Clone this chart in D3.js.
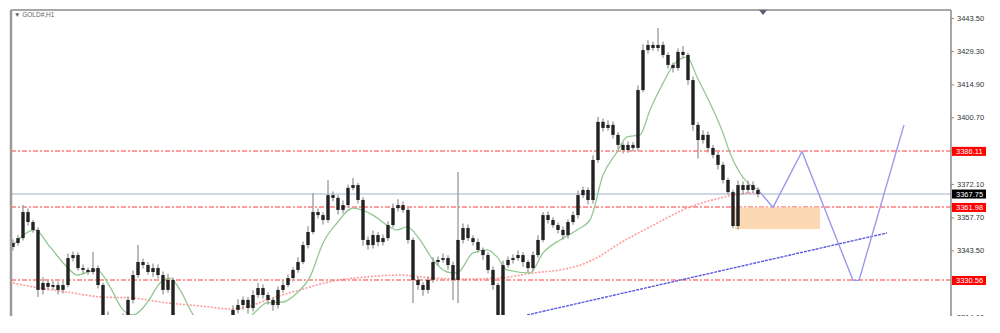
<!DOCTYPE html>
<html><head><meta charset="utf-8">
<script src="https://cdn.jsdelivr.net/npm/d3@7"></script>
<style>body{margin:0;background:#fff}svg{display:block}</style>
</head><body><svg id="c" width="1000" height="333"></svg>
<script>
// ---- data (prices) ----
const firstOpen = 3345.0;
const closes = [
3346.7,3348.8,3360.0,3355.7,3352.3,3326.5,3329.5,3327.8,3328.6,3326.5,
3328.6,3340.2,3341.5,3335.9,3335.1,3334.2,3335.9,3328.6,3315.7,3311.4,
3309.3,3311.4,3314.4,3322.2,3332.9,3338.5,3337.2,3334.2,3335.9,3332.9,
3326.5,3330.8,3313.6,3310.5,3308.2,3305.9,3303.8,3301.5,3300.2,3302.6,
3304.1,3306.8,3309.0,3311.2,3317.9,3320.0,3322.2,3318.7,3324.3,3327.3,
3324.3,3322.2,3320.0,3326.5,3328.6,3331.6,3335.1,3338.5,3345.8,3351.4,
3360.0,3358.7,3356.6,3367.3,3366.1,3360.9,3363.0,3370.4,3371.6,3365.2,
3348.0,3345.8,3350.1,3347.1,3348.8,3354.4,3361.7,3363.0,3360.9,3348.0,
3330.8,3328.6,3326.5,3330.8,3338.5,3339.4,3340.2,3337.2,3330.8,3348.0,
3353.1,3348.8,3347.1,3343.7,3341.5,3335.1,3328.6,3315.7,3337.2,3339.4,
3340.2,3341.5,3338.5,3335.9,3341.5,3348.0,3358.7,3356.6,3354.4,3352.3,
3350.1,3355.7,3358.7,3367.3,3369.5,3365.2,3382.4,3398.8,3396.2,3397.5,
3393.2,3388.9,3386.7,3388.9,3387.6,3412.5,3429.7,3431.9,3430.6,3431.9,
3427.6,3423.3,3422.0,3428.9,3427.6,3416.8,3397.5,3391.0,3393.2,3387.6,
3384.6,3380.3,3373.8,3368.6,3354.0,3371.6,3369.5,3371.6,3369.5,3367.75];
const upWick = [
1.5,1.2,3.0,1.5,1.0,1.2,2.5,1.5,2.0,1.5,
1.8,2.0,1.5,1.2,1.5,1.0,6.9,1.2,1.0,1.5,
1.2,1.5,2.0,1.5,2.0,7.3,1.5,1.2,2.0,1.5,
1.5,2.5,1.0,1.5,1.5,1.5,1.5,1.5,1.5,1.5,
1.5,1.5,1.5,1.5,2.0,2.5,1.5,1.2,2.0,2.2,
1.5,1.2,1.0,1.5,2.0,1.5,1.2,2.0,1.5,2.5,
8.2,1.5,1.2,6.5,1.5,1.2,2.0,1.5,3.1,1.0,
1.2,1.5,2.0,1.2,1.5,1.5,2.0,2.5,1.5,1.0,
1.0,1.5,1.2,1.5,2.0,1.5,2.0,1.2,1.5,29.2,
2.0,1.5,1.2,1.5,1.0,1.2,1.5,1.0,2.0,1.5,
1.5,2.0,1.2,1.0,1.5,2.0,1.3,1.5,1.2,1.0,
1.5,1.2,1.5,2.0,1.5,1.2,2.0,2.2,1.5,2.0,
1.5,1.2,1.0,1.5,1.2,2.0,2.5,2.0,1.5,7.3,
1.5,1.2,1.0,1.5,2.5,1.0,1.5,1.2,2.0,1.5,
1.2,1.5,1.2,1.0,1.0,2.0,1.5,2.0,1.5,1.2];
const dnWick = [
1.5,1.2,1.0,1.5,1.2,3.0,2.0,1.5,1.2,2.0,
1.5,1.0,1.5,1.2,1.5,1.2,1.0,1.5,2.0,1.5,
2.0,1.5,1.2,1.0,1.5,1.2,1.5,1.2,2.0,1.5,
2.0,1.2,2.0,1.5,1.5,1.5,1.5,1.5,1.5,1.5,
1.5,1.5,1.5,1.5,2.0,1.5,2.0,2.5,1.5,1.2,
1.5,2.0,2.5,1.5,1.2,1.0,1.5,1.2,1.0,1.5,
1.0,1.5,2.0,1.2,1.5,2.0,1.5,1.2,1.0,1.5,
2.5,2.0,1.5,1.8,1.5,1.2,1.0,1.5,1.2,1.5,
9.9,2.0,2.5,1.5,1.2,1.5,1.2,2.0,8.6,9.9,
1.5,1.2,1.5,1.2,2.0,1.5,2.0,2.5,1.5,1.2,
1.5,1.2,2.0,1.8,1.5,1.2,1.0,1.5,1.2,1.5,
2.0,1.5,1.2,1.5,1.2,2.0,1.5,1.2,1.5,1.2,
1.5,2.0,1.5,1.2,1.5,1.2,1.0,1.5,1.2,1.5,
1.2,1.5,2.0,1.2,1.5,2.0,2.5,8.0,1.5,2.0,
1.5,2.0,1.5,1.2,1.0,1.5,2.0,1.5,1.2,1.5];

// fast moving average (green), sampled at bar positions
const greenIdx = [0,4.4,7.4,10.8,12.8,16.8,19.4,22,24,26.8,29.4,31.4,33.4,35.8,39.4,44.4,48,50.8,54,56.8,59.4,62,64.8,68,72,74.8,76.8,78.8,81.4,84,86.8,88.8,92,94.8,96.8,98.8,103.4,106,109.4,112.8,115.4,118,120.8,122.8,125.4,127.4,130,132.4,134.8,136.8,139.4,142,143.4,145.4,148,149.4];
const greenVal = [3345.8,3352.3,3345.0,3336.4,3332.9,3335.1,3327.8,3317.9,3315.7,3320.9,3329.5,3331.6,3326.5,3316.6,3307.1,3309.3,3316.1,3320.9,3321.3,3325.2,3332.1,3346.7,3355.3,3361.7,3358.7,3354.4,3352.3,3353.6,3348.0,3339.4,3334.2,3333.8,3342.4,3343.7,3340.7,3335.1,3333.8,3342.4,3348.0,3352.3,3356.6,3375.9,3385.8,3392.3,3393.2,3403.9,3415.5,3424.1,3426.7,3418.1,3406.9,3394.0,3385.4,3376.8,3370.8,3369.5];
// slow moving average (red dotted)
const redIdx = [0,4,10.8,17.4,24,30.8,37.4,43.4,47.4,50.8,57.4,64,70.8,77.4,84,90.8,97.4,104,109.4,114,117.4,120.8,127.4,135.4,141.4,145.4,149.4];
const redVal = [3329.5,3327.8,3325.6,3323.5,3323.0,3320.9,3319.6,3318.3,3319.6,3322.2,3326.5,3330.3,3332.1,3332.9,3331.6,3331.2,3331.6,3333.8,3335.1,3337.6,3341.1,3345.8,3353.6,3362.2,3366.0,3367.8,3368.6];

const levelPrices = [3386.11, 3361.98, 3330.56];
const bidPrice = 3367.75;
const priceTicks = [3443.5, 3429.3, 3414.9, 3400.7, 3372.1, 3357.7, 3343.5, 3314.9];

// projection drawings
const zigIdx = [149.4, 152, 157.8, 168, 169.2, 178.2];
const zigVal = [3368.6, 3362.0, 3386.1, 3330.6, 3330.6, 3397.5];
const trendIdx = [102.8, 174.8];
const trendVal = [3315.7, 3351.0];
const boxIdx = [144.4, 161.4];
const boxVal = [3362.0, 3352.7];
const symbol = "GOLD#,H1";

// ---- layout ----
const L = 11, R = 951, T = 10, B = 315;
const svg = d3.select("#c");
const x = d3.scaleLinear().domain([0, 149]).range([13, 758]);
const y = d3.scaleLinear().domain([3443.5, 3343.5]).range([18, 250.4]);

const defs = svg.append("defs");
defs.append("clipPath").attr("id","plot").append("rect").attr("x",L+1).attr("y",T+1).attr("width",R-L-1).attr("height",B-T-1);
defs.append("clipPath").attr("id","all").append("rect").attr("x",0).attr("y",0).attr("width",1000).attr("height",B+1);

const root = svg.append("g").attr("clip-path","url(#all)");
const plot = root.append("g").attr("clip-path","url(#plot)");

// levels
plot.selectAll("line.lvl").data(levelPrices).join("line").attr("class","lvl")
  .attr("x1",L).attr("x2",R).attr("y1",d=>Math.round(y(d))).attr("y2",d=>Math.round(y(d)))
  .attr("stroke","#ff5a5a").attr("stroke-opacity",0.6).attr("stroke-width",2).attr("stroke-dasharray","5,2,2,2");
plot.append("line").attr("x1",L).attr("x2",R).attr("y1",Math.round(y(bidPrice))).attr("y2",Math.round(y(bidPrice)))
  .attr("stroke","#d0d8e6").attr("stroke-width",2);

// box
plot.append("rect").attr("x",x(boxIdx[0])).attr("width",x(boxIdx[1])-x(boxIdx[0]))
  .attr("y",y(boxVal[0])).attr("height",y(boxVal[1])-y(boxVal[0])).attr("fill","#fcd9b4");

// MAs
const lineGen = d3.line().x(d=>x(d[0])).y(d=>y(d[1])).curve(d3.curveMonotoneX);
plot.append("path").attr("d",lineGen(redIdx.map((d,i)=>[d,redVal[i]])))
  .attr("fill","none").attr("stroke","#ff7070").attr("stroke-opacity",0.7).attr("stroke-width",1.6).attr("stroke-dasharray","2,1.5");
plot.append("path").attr("d",lineGen(greenIdx.map((d,i)=>[d,greenVal[i]])))
  .attr("fill","none").attr("stroke","#92c892").attr("stroke-width",1.3);

// candles
const data = closes.map((c,i)=>{
  const o = i===0 ? firstOpen : closes[i-1];
  return {i,o,c,h:Math.max(o,c)+upWick[i],l:Math.min(o,c)-dnWick[i]};
});
const cg = plot.append("g");
cg.selectAll("line").data(data).join("line")
  .attr("x1",d=>x(d.i)).attr("x2",d=>x(d.i)).attr("y1",d=>y(d.h)).attr("y2",d=>y(d.l))
  .attr("stroke","#a0a0a0").attr("stroke-width",1.4);
cg.selectAll("rect").data(data).join("rect")
  .attr("x",d=>x(d.i)-1.7).attr("width",3.4)
  .attr("y",d=>y(Math.max(d.o,d.c))).attr("height",d=>Math.max(1.2,Math.abs(y(d.o)-y(d.c))))
  .attr("fill","#222");

// trendline & zigzag
plot.append("path").attr("d",d3.line().x(d=>x(d[0])).y(d=>y(d[1]))(trendIdx.map((d,i)=>[d,trendVal[i]])))
  .attr("stroke","#5a5ae0").attr("stroke-width",1.4).attr("fill","none").attr("stroke-dasharray","3,1");
plot.append("path").attr("d",d3.line().x(d=>x(d[0])).y(d=>y(d[1]))(zigIdx.map((d,i)=>[d,zigVal[i]])))
  .attr("stroke","#9a9aec").attr("stroke-width",1.4).attr("fill","none");

// frame
root.append("line").attr("x1",L).attr("x2",R).attr("y1",T).attr("y2",T).attr("stroke","#8a8a8a").attr("stroke-width",1.5);
root.append("line").attr("x1",L).attr("x2",L).attr("y1",T).attr("y2",B+2).attr("stroke","#9a9a9a").attr("stroke-width",2.5);

// price axis
const ax = root.append("g").attr("transform",`translate(${R},0)`)
  .call(d3.axisRight(y).tickValues(priceTicks).tickFormat(d3.format(".2f")).tickSize(3).tickPadding(3));
ax.select(".domain").attr("d",`M0,${T}V${B+2}`).attr("stroke","#8a8a8a").attr("stroke-width",1.5);
ax.selectAll(".tick line").attr("stroke","#888");
ax.selectAll("text").attr("font-family","Liberation Sans, Arial, sans-serif").attr("font-size",7.5).attr("fill","#333");

// price labels
function tag(p, bg){
  const g = root.append("g");
  g.append("rect").attr("x",R+1).attr("y",y(p)-4.5).attr("width",34).attr("height",9).attr("fill",bg);
  g.append("text").attr("x",R+5).attr("y",y(p)).attr("dy","0.35em").text(d3.format(".2f")(p))
    .attr("font-family","Liberation Sans, Arial, sans-serif").attr("font-size",7.5).attr("fill","#fff");
}
levelPrices.forEach(p=>tag(p,"#f00"));
tag(bidPrice,"#000");

// title & shift marker
root.append("text").attr("x",14).attr("y",17).text("▼ "+symbol)
  .attr("font-family","Liberation Sans, Arial, sans-serif").attr("font-size",6.5).attr("fill","#666");
root.append("path").attr("d","M759,10 L767,10 L763,15 Z").attr("fill","#5a6070");
</script></body></html>
